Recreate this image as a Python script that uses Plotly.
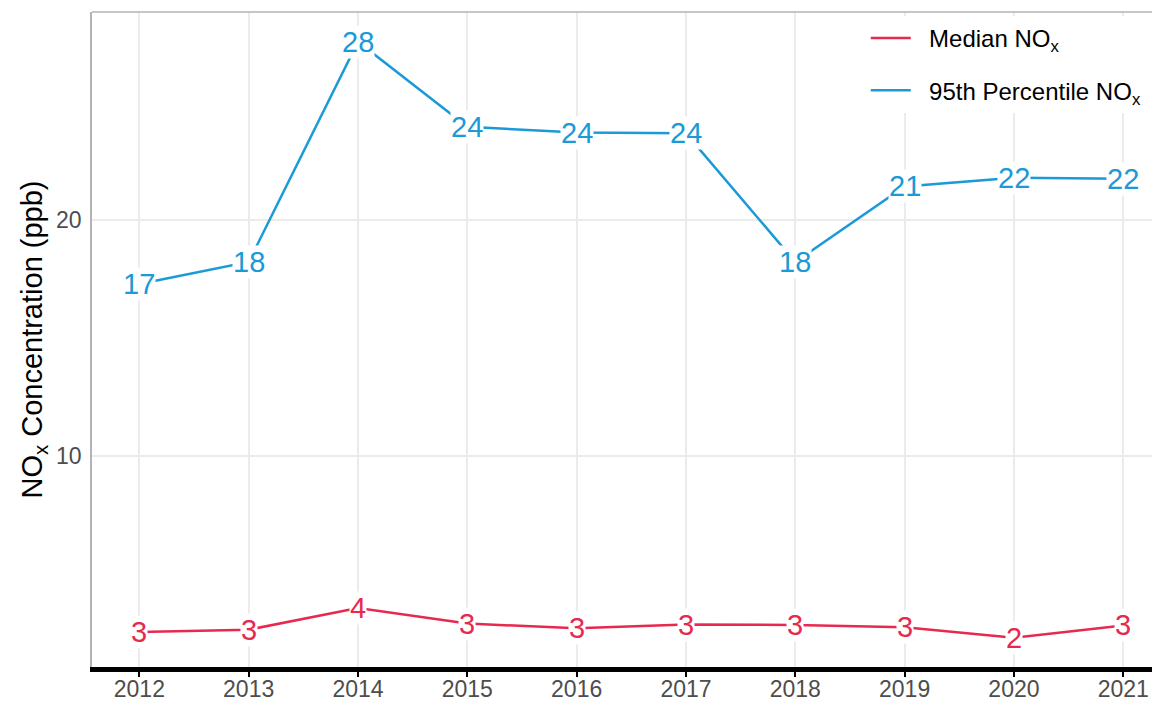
import plotly.graph_objects as go

years = [2012, 2013, 2014, 2015, 2016, 2017, 2018, 2019, 2020, 2021]
median_nox = [2.54, 2.64, 3.56, 2.90, 2.70, 2.86, 2.84, 2.74, 2.30, 2.82]
p95_nox = [17.29, 18.22, 27.55, 23.95, 23.70, 23.67, 18.22, 21.42, 21.79, 21.75]
x_ticks = years
y_ticks = [10, 20]

RED = "#E7294F"
BLUE = "#1A9AD6"
FONT = "Liberation Sans, Arial, sans-serif"
NB = "\u00a0\u00a0"

fig = go.Figure()
fig.add_trace(go.Scatter(
    x=years, y=median_nox, mode="lines", name=NB + "Median NO<sub>x</sub>",
    line=dict(color=RED, width=2.5), legendgroup="a"))
fig.add_trace(go.Scatter(
    x=years, y=p95_nox, mode="lines", name=NB + "95th Percentile NO<sub>x</sub>",
    line=dict(color=BLUE, width=2.5), legendgroup="b"))

for series, color in [(median_nox, RED), (p95_nox, BLUE)]:
    for xv, yv in zip(years, series):
        fig.add_annotation(
            x=xv, y=yv, text=str(int(yv + 0.5)), showarrow=False,
            font=dict(size=29, color=color, family=FONT),
            bgcolor="white", borderpad=0, xref="x", yref="y")

fig.add_shape(type="line", xref="paper", yref="paper", x0=0, x1=1, y0=1, y1=1,
              line=dict(color="#B3B3B3", width=1.5), layer="above")

# page body has an 8px default margin; figure sized to fill the rest of the window
fig.update_layout(
    width=1152, height=694,
    margin=dict(l=84, r=0, t=4, b=35),
    paper_bgcolor="white", plot_bgcolor="white",
    font=dict(family=FONT, color="#4D4D4D"),
    legend=dict(x=0.7245, y=0.994, xanchor="left", yanchor="top",
                bgcolor="white", font=dict(size=24, color="black", family=FONT),
                tracegroupgap=18, traceorder="grouped", itemwidth=40),
    xaxis=dict(range=[2011.567, 2021.336], tickvals=x_ticks,
               ticktext=[str(t) for t in x_ticks], automargin=False,
               showgrid=True, gridcolor="#EBEBEB", gridwidth=2,
               showline=True, linecolor="black", linewidth=5,
               ticks="outside", ticklen=5, tickwidth=2, tickcolor="black",
               ticklabelstandoff=-8,
               tickfont=dict(size=23, color="#4D4D4D"), zeroline=False),
    yaxis=dict(range=[1.06, 28.81], tickvals=y_ticks, automargin=False,
               showgrid=True, gridcolor="#EBEBEB", gridwidth=2,
               showline=True, linecolor="#B3B3B3", linewidth=1.5,
               ticks="", ticklabelstandoff=4,
               tickfont=dict(size=23, color="#4D4D4D"), zeroline=False,
               title=dict(text="NO<sub>x</sub> Concentration (ppb)",
                          font=dict(size=29, color="black"), standoff=5)),
)

fig.write_html("out.html")
